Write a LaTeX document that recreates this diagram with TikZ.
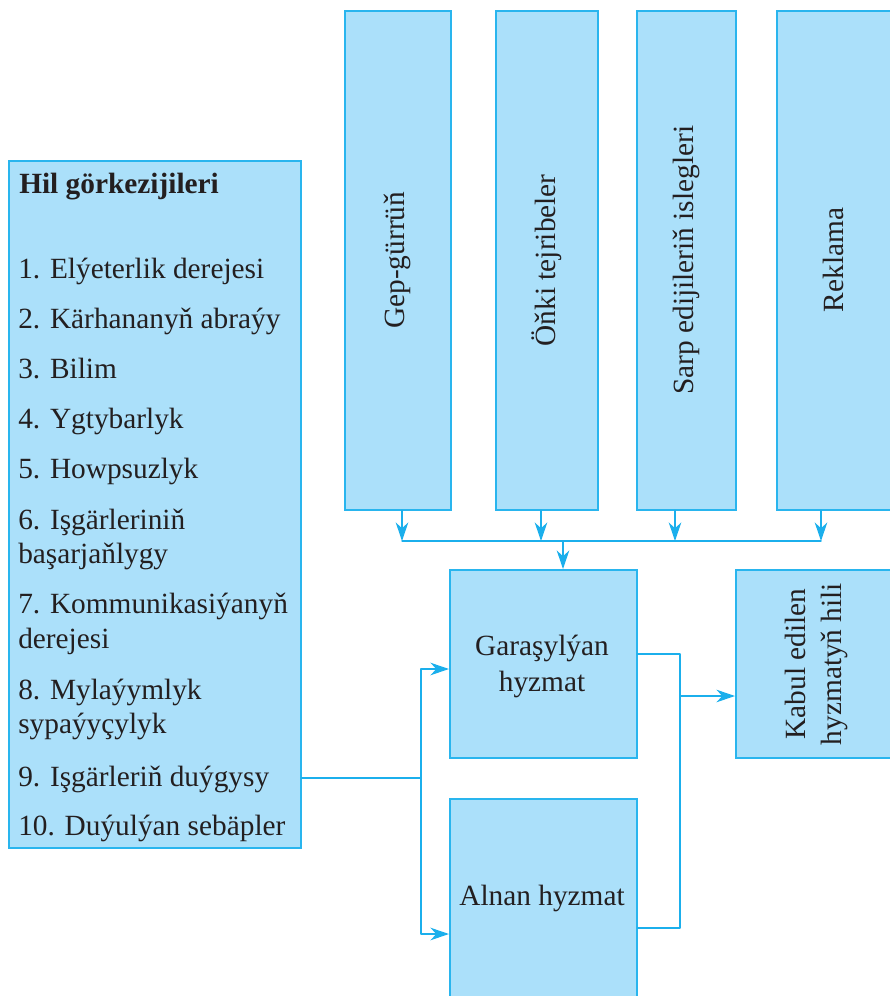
\documentclass[tikz,border=0pt]{standalone}
\usepackage{fontspec}
\setmainfont{Liberation Serif}
\usepackage{xcolor}
\usetikzlibrary{arrows.meta,calc}
\definecolor{boxfill}{HTML}{ABE0FA}
\definecolor{boxline}{HTML}{29B5EE}
\definecolor{flowline}{HTML}{1BAFEC}
\definecolor{inktext}{HTML}{231F20}
\newcommand{\pxu}{0.75pt}

\begin{document}
\begin{tikzpicture}[line cap=round,line join=round,x=0.75pt,y=-0.75pt,
box/.style={draw=boxline,fill=boxfill,line width=1.2pt,line join=miter,anchor=north west,inner sep=0pt},
txt/.style={text=inktext,font=\fontsize{22}{27}\selectfont,inner sep=0pt},
flow/.style={draw=flowline,line width=1pt},
flowto/.style={flow,-{Stealth[length=14pt,width=9.5pt,inset=4.5pt,line join=miter]}}]
\useasboundingbox (0,0) rectangle (889,996);
\node[box,minimum width=292*\pxu,minimum height=687*\pxu] (hil) at (8,160) {};
\node[box,minimum width=106*\pxu,minimum height=499*\pxu] (gep) at (344,10) {};
\node[box,minimum width=102*\pxu,minimum height=499*\pxu] (onki) at (495,10) {};
\node[box,minimum width=99*\pxu,minimum height=499*\pxu] (sarp) at (636,10) {};
\node[box,minimum width=124*\pxu,minimum height=499*\pxu] (reklama) at (776,10) {};
\node[box,minimum width=187*\pxu,minimum height=188*\pxu] (gar) at (449,569) {};
\node[box,minimum width=160*\pxu,minimum height=188*\pxu] (kabul) at (735,569) {};
\node[box,minimum width=187*\pxu,minimum height=210*\pxu] (alnan) at (449,798) {};
\node[txt,rotate=90] (gept) at (gep.center) {Gep-gürrüň};
\node[txt,rotate=90] (onkit) at (onki.center) {Öňki tejribeler};
\node[txt,rotate=90] (sarpt) at (sarp.center) {Sarp edijileriň islegleri};
\node[txt,rotate=90] (reklamat) at (833,260) {Reklama};
\node[txt,align=center] (gart) at (542,666) {Garaşylýan\\hyzmat};
\node[txt,rotate=90,align=center] (kabult) at (816,664) {Kabul edilen\\hyzmatyň hili};
\node[txt] (alnant) at (542,898) {Alnan hyzmat};
\node[txt,anchor=base west] (h0) at (19,193) {\bfseries Hil görkezijileri};
\node[txt,anchor=base west] (h1) at (18,278) {1. Elýeterlik derejesi};
\node[txt,anchor=base west] (h2) at (18,328) {2. Kärhananyň abraýy};
\node[txt,anchor=base west] (h3) at (18,378) {3. Bilim};
\node[txt,anchor=base west] (h4) at (18,428) {4. Ygtybarlyk};
\node[txt,anchor=base west] (h5) at (18,478) {5. Howpsuzlyk};
\node[txt,anchor=base west] (h6) at (18,529) {6. Işgärleriniň};
\node[txt,anchor=base west] (h6b) at (18,563) {başarjaňlygy};
\node[txt,anchor=base west] (h7) at (18,613) {7. Kommunikasiýanyň};
\node[txt,anchor=base west] (h7b) at (18,648) {derejesi};
\node[txt,anchor=base west] (h8) at (18,699) {8. Mylaýymlyk};
\node[txt,anchor=base west] (h8b) at (18,733) {sypaýyçylyk};
\node[txt,anchor=base west] (h9) at (18,786) {9. Işgärleriň duýgysy};
\node[txt,anchor=base west] (h10) at (18,835) {10. Duýulýan sebäpler};
\coordinate (j1) at (402,541);
\coordinate (j2) at (541,541);
\coordinate (j3) at (675,541);
\coordinate (j4) at (821,541);
\coordinate (jm) at (563,541);
\draw[flowto] (gep.south -| j1) -- (j1);
\draw[flowto] (onki.south -| j2) -- (j2);
\draw[flowto] (sarp.south -| j3) -- (j3);
\draw[flowto] (reklama.south -| j4) -- (j4);
\draw[flow] (j1) -- (j4);
\draw[flowto] (jm) -- (jm |- gar.north);
\coordinate (sp) at (421,778);
\coordinate (up) at (421,669);
\coordinate (dn) at (421,934);
\draw[flow] (hil.east |- sp) -- (sp);
\draw[flowto] (sp) -- (up) -- (up -| gar.west);
\draw[flowto] (sp) -- (dn) -- (dn -| alnan.west);
\coordinate (r1) at (680,654);
\coordinate (r2) at (680,928);
\coordinate (rk) at (680,696);
\draw[flow] (gar.east |- r1) -- (r1) -- (r2) -- (alnan.east |- r2);
\draw[flowto] (rk) -- (rk -| kabul.west);
\end{tikzpicture}
\end{document}
